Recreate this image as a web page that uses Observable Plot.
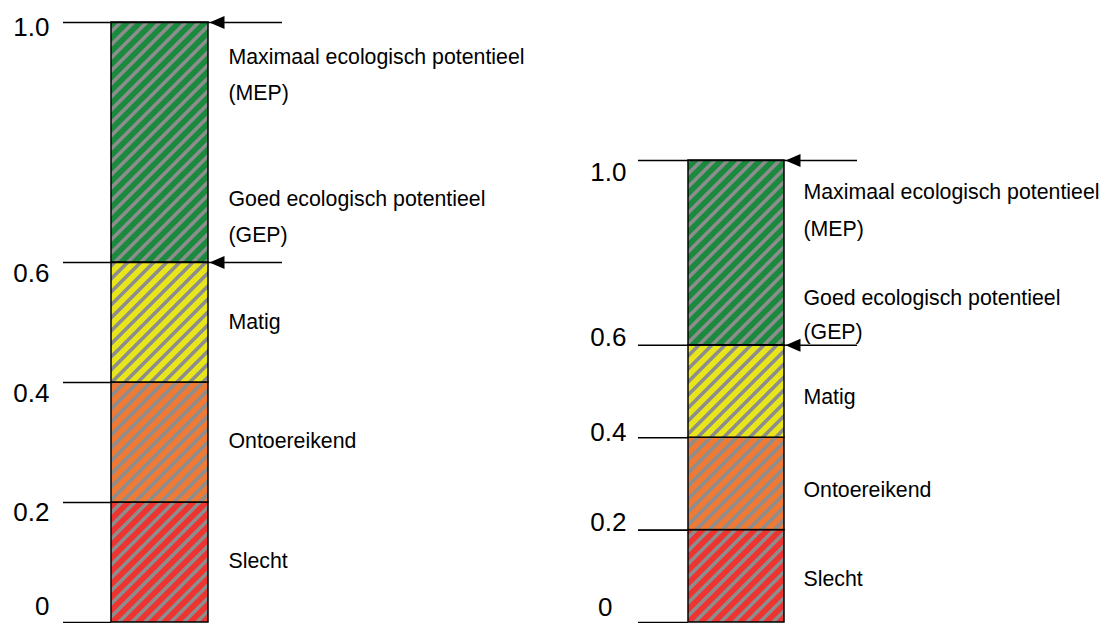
<!DOCTYPE html>
<html><head><meta charset="utf-8">
<script src="https://cdn.jsdelivr.net/npm/d3@7"></script>
<script src="https://cdn.jsdelivr.net/npm/@observablehq/plot@0.6"></script>
<style>
html,body{margin:0;padding:0;background:#fff;}
#wrap{position:relative;width:1100px;height:623px;overflow:hidden;}
#wrap > svg{position:absolute;top:0;overflow:visible;}
</style></head><body>
<svg id="defs" width="0" height="0" style="position:absolute;left:0;top:0"></svg>
<div id="wrap"></div>
<script>
// ---- data ----
const classNames = ["Slecht", "Ontoereikend", "Matig", "Goed"];
const classLower = [0, 0.2, 0.4, 0.6];
const classUpper = [0.2, 0.4, 0.6, 1.0];
const classColors = ["#ee3431", "#ef7a36", "#e8e51b", "#1b8a3f"];
const hatchColor = "#8d8d8d";
const tickValues = [0, 0.2, 0.4, 0.6, 1.0];
const tickLabels = ["0", "0.2", "0.4", "0.6", "1.0"];
const shortTickValues = [0, 0.2, 0.4];
const arrowValues = [0.6, 1.0];
const labelTexts = ["Maximaal ecologisch potentieel", "(MEP)", "Goed ecologisch potentieel", "(GEP)", "Matig", "Ontoereikend", "Slecht"];
const labelValuesLeft = [0.942, 0.882, 0.705, 0.645, 0.5, 0.302, 0.103];
const labelValuesRight = [0.931, 0.851, 0.701, 0.628, 0.487, 0.286, 0.093];

// ---- hatch patterns ----
const P = 13;
const defs = d3.select("#defs").append("defs");
classColors.forEach((c, i) => {
  const p = defs.append("pattern").attr("id", "hatch" + i)
    .attr("patternUnits", "userSpaceOnUse").attr("width", P).attr("height", P);
  p.append("rect").attr("width", P).attr("height", P).attr("fill", c);
  p.append("path").attr("d", `M-4,4L4,-4M0,${P}L${P},0M${P-4},${P+4}L${P+4},${P-4}`)
    .attr("stroke", hatchColor).attr("stroke-width", 3.6).attr("fill", "none");
});

// ---- arrowhead symbol ----
const arrowHead = {draw(ctx) { ctx.moveTo(1, 0); ctx.lineTo(16, -6.5); ctx.lineTo(16, 6.5); ctx.closePath(); }};

// ---- panel layouts ----
const panels = [
  {left: 0, top: 22, tickStart: 63, barL: 111, barR: 208, lineEnd: 282, labelX: 228, tickLabelX: 49,
   tickDy: [-16, 10, 11, 11, 5], tickDx: [0, 0, 0, 0, 0], labelValues: labelValuesLeft},
  {left: 550, top: 160, tickStart: 88, barL: 138, barR: 234, lineEnd: 307, labelX: 253, tickLabelX: 76,
   tickDy: [-15, -7, -5, -8, 12], tickDx: [-14, 0, 0, 0, 0], labelValues: labelValuesRight}
];

const font = "'Liberation Sans', Arial, Helvetica, sans-serif";

for (const L of panels) {
  const marks = [];
  classNames.forEach((n, i) => {
    marks.push(Plot.rect([n], {x1: L.barL, x2: L.barR, y1: classLower[i], y2: classUpper[i],
      fill: `url(#hatch${i})`, stroke: "black", strokeWidth: 1.5}));
  });
  marks.push(Plot.ruleY(shortTickValues, {x1: L.tickStart, x2: L.barL, stroke: "black", strokeWidth: 1.6}));
  marks.push(Plot.ruleY(arrowValues, {x1: L.tickStart, x2: L.lineEnd, stroke: "black", strokeWidth: 1.6}));
  marks.push(Plot.dot(arrowValues, {x: L.barR, y: d => d, symbol: arrowHead, fill: "black", stroke: "none"}));
  tickLabels.forEach((t, i) => {
    marks.push(Plot.text([t], {x: L.tickLabelX, y: tickValues[i], text: d => d, textAnchor: "end",
      fontSize: 26, dy: L.tickDy[i], dx: L.tickDx[i], fill: "black"}));
  });
  marks.push(Plot.text(labelTexts, {x: L.labelX, y: (d, i) => L.labelValues[i], text: d => d,
    textAnchor: "start", fontSize: 21.3, fill: "black"}));

  const chart = Plot.plot({
    width: 550, height: 623,
    marginLeft: 0, marginRight: 0, marginTop: L.top, marginBottom: 1,
    x: {domain: [0, 550], axis: null},
    y: {domain: [0, 1], axis: null},
    style: {fontFamily: font, background: "transparent", overflow: "visible"},
    marks
  });
  chart.style.left = L.left + "px";
  document.getElementById("wrap").appendChild(chart);
}
</script>
</body></html>
